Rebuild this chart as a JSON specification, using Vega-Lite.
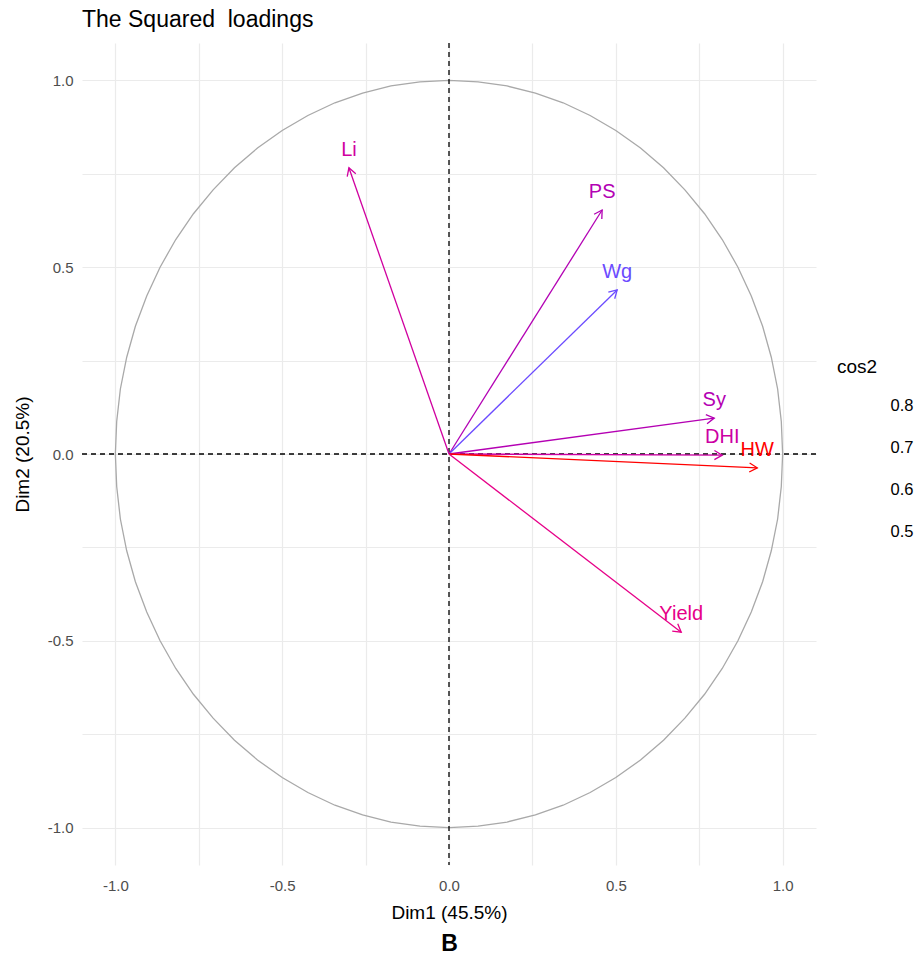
{
  "$schema": "https://vega.github.io/schema/vega-lite/v6.json",
  "background": "white",
  "padding": {"left": 13, "top": 9, "right": 0, "bottom": 0},
  "config": {
    "font": "Liberation Sans",
    "view": {"stroke": null},
    "axis": {
      "grid": true, "gridColor": "#EBEBEB", "gridWidth": 1.2,
      "domain": false, "ticks": false,
      "labelColor": "#4D4D4D", "labelFontSize": 15, "labelFont": "Liberation Sans",
      "titleFontSize": 19, "titleFontWeight": "normal", "titleColor": "#000000", "titleFont": "Liberation Sans"
    }
  },
  "datasets": {
    "circle": [
      {"o": 0, "cx": 1.0, "cy": 0.0}, {"o": 1, "cx": 0.996, "cy": 0.087}, {"o": 2, "cx": 0.985, "cy": 0.174}, {"o": 3, "cx": 0.966, "cy": 0.259},
      {"o": 4, "cx": 0.94, "cy": 0.342}, {"o": 5, "cx": 0.906, "cy": 0.423}, {"o": 6, "cx": 0.866, "cy": 0.5}, {"o": 7, "cx": 0.819, "cy": 0.574},
      {"o": 8, "cx": 0.766, "cy": 0.643}, {"o": 9, "cx": 0.707, "cy": 0.707}, {"o": 10, "cx": 0.643, "cy": 0.766}, {"o": 11, "cx": 0.574, "cy": 0.819},
      {"o": 12, "cx": 0.5, "cy": 0.866}, {"o": 13, "cx": 0.423, "cy": 0.906}, {"o": 14, "cx": 0.342, "cy": 0.94}, {"o": 15, "cx": 0.259, "cy": 0.966},
      {"o": 16, "cx": 0.174, "cy": 0.985}, {"o": 17, "cx": 0.087, "cy": 0.996}, {"o": 18, "cx": 0.0, "cy": 1.0}, {"o": 19, "cx": -0.087, "cy": 0.996},
      {"o": 20, "cx": -0.174, "cy": 0.985}, {"o": 21, "cx": -0.259, "cy": 0.966}, {"o": 22, "cx": -0.342, "cy": 0.94}, {"o": 23, "cx": -0.423, "cy": 0.906},
      {"o": 24, "cx": -0.5, "cy": 0.866}, {"o": 25, "cx": -0.574, "cy": 0.819}, {"o": 26, "cx": -0.643, "cy": 0.766}, {"o": 27, "cx": -0.707, "cy": 0.707},
      {"o": 28, "cx": -0.766, "cy": 0.643}, {"o": 29, "cx": -0.819, "cy": 0.574}, {"o": 30, "cx": -0.866, "cy": 0.5}, {"o": 31, "cx": -0.906, "cy": 0.423},
      {"o": 32, "cx": -0.94, "cy": 0.342}, {"o": 33, "cx": -0.966, "cy": 0.259}, {"o": 34, "cx": -0.985, "cy": 0.174}, {"o": 35, "cx": -0.996, "cy": 0.087},
      {"o": 36, "cx": -1.0, "cy": 0.0}, {"o": 37, "cx": -0.996, "cy": -0.087}, {"o": 38, "cx": -0.985, "cy": -0.174}, {"o": 39, "cx": -0.966, "cy": -0.259},
      {"o": 40, "cx": -0.94, "cy": -0.342}, {"o": 41, "cx": -0.906, "cy": -0.423}, {"o": 42, "cx": -0.866, "cy": -0.5}, {"o": 43, "cx": -0.819, "cy": -0.574},
      {"o": 44, "cx": -0.766, "cy": -0.643}, {"o": 45, "cx": -0.707, "cy": -0.707}, {"o": 46, "cx": -0.643, "cy": -0.766}, {"o": 47, "cx": -0.574, "cy": -0.819},
      {"o": 48, "cx": -0.5, "cy": -0.866}, {"o": 49, "cx": -0.423, "cy": -0.906}, {"o": 50, "cx": -0.342, "cy": -0.94}, {"o": 51, "cx": -0.259, "cy": -0.966},
      {"o": 52, "cx": -0.174, "cy": -0.985}, {"o": 53, "cx": -0.087, "cy": -0.996}, {"o": 54, "cx": 0.0, "cy": -1.0}, {"o": 55, "cx": 0.087, "cy": -0.996},
      {"o": 56, "cx": 0.174, "cy": -0.985}, {"o": 57, "cx": 0.259, "cy": -0.966}, {"o": 58, "cx": 0.342, "cy": -0.94}, {"o": 59, "cx": 0.423, "cy": -0.906},
      {"o": 60, "cx": 0.5, "cy": -0.866}, {"o": 61, "cx": 0.574, "cy": -0.819}, {"o": 62, "cx": 0.643, "cy": -0.766}, {"o": 63, "cx": 0.707, "cy": -0.707},
      {"o": 64, "cx": 0.766, "cy": -0.643}, {"o": 65, "cx": 0.819, "cy": -0.574}, {"o": 66, "cx": 0.866, "cy": -0.5}, {"o": 67, "cx": 0.906, "cy": -0.423},
      {"o": 68, "cx": 0.94, "cy": -0.342}, {"o": 69, "cx": 0.966, "cy": -0.259}, {"o": 70, "cx": 0.985, "cy": -0.174}, {"o": 71, "cx": 0.996, "cy": -0.087},
      {"o": 72, "cx": 1.0, "cy": 0.0}
    ],
    "vars": [
      {"name": "Li", "x": -0.3, "y": 0.766, "cos2": 0.677},
      {"name": "PS", "x": 0.459, "y": 0.653, "cos2": 0.637},
      {"name": "Wg", "x": 0.504, "y": 0.439, "cos2": 0.447},
      {"name": "Sy", "x": 0.795, "y": 0.096, "cos2": 0.641},
      {"name": "DHI", "x": 0.819, "y": -0.003, "cos2": 0.671},
      {"name": "HW", "x": 0.924, "y": -0.037, "cos2": 0.855},
      {"name": "Yield", "x": 0.696, "y": -0.477, "cos2": 0.712}
    ]
  },
  "title": {"text": "B", "orient": "bottom", "anchor": "middle", "dx": -14, "fontSize": 23, "fontWeight": "bold", "color": "#000000", "offset": 11, "font": "Liberation Sans"},
  "vconcat": [
    {
      "width": 734,
      "height": 822,
      "title": {"text": "The Squared\u00a0 loadings", "anchor": "start", "frame": "group", "fontSize": 23, "fontWeight": "normal", "color": "#000000", "offset": 10, "font": "Liberation Sans"},
      "layer": [
        {
          "data": {"name": "circle"},
          "mark": {"type": "line", "color": "#A9A9A9", "strokeWidth": 1.3},
          "encoding": {
            "x": {"field": "cx", "type": "quantitative", "scale": {"domain": [-1.1, 1.1], "nice": false, "zero": false},
              "axis": {"values": [-1, -0.75, -0.5, -0.25, 0, 0.25, 0.5, 0.75, 1], "labelExpr": "abs(datum.value*2 - round(datum.value*2)) < 0.01 ? replace(format(datum.value, '.1f'), '\u2212', '-') : ''", "title": "Dim1 (45.5%)", "labelPadding": 13, "titlePadding": 10}},
            "y": {"field": "cy", "type": "quantitative", "scale": {"domain": [-1.1, 1.1], "nice": false, "zero": false},
              "axis": {"values": [-1, -0.75, -0.5, -0.25, 0, 0.25, 0.5, 0.75, 1], "labelExpr": "abs(datum.value*2 - round(datum.value*2)) < 0.01 ? replace(format(datum.value, '.1f'), '\u2212', '-') : ''", "title": "Dim2 (20.5%)", "labelPadding": 9, "titlePadding": 15}},
            "order": {"field": "o", "type": "quantitative"}
          }
        },
        {
          "data": {"values": [{"v": 0}]},
          "mark": {"type": "rule", "color": "#000000", "strokeWidth": 1.3, "strokeDash": [5, 4]},
          "encoding": {"x": {"field": "v", "type": "quantitative"}}
        },
        {
          "data": {"values": [{"v": 0}]},
          "mark": {"type": "rule", "color": "#000000", "strokeWidth": 1.3, "strokeDash": [5, 4]},
          "encoding": {"y": {"field": "v", "type": "quantitative"}}
        },
        {
          "data": {"name": "vars"},
          "mark": {"type": "rule", "strokeWidth": 1.3},
          "encoding": {
            "x": {"field": "x", "type": "quantitative"},
            "y": {"field": "y", "type": "quantitative"},
            "x2": {"datum": 0},
            "y2": {"datum": 0},
            "color": {"field": "cos2", "type": "quantitative",
              "scale": {"domain": [0.447, 0.64, 0.855], "range": ["#6B4BFF", "#B300B3", "#FF0000"], "interpolate": "hcl"},
              "legend": {"type": "symbol", "title": "cos2", "orient": "none", "legendX": 755, "legendY": 315, "values": [0.8, 0.7, 0.6, 0.5],
                "symbolOpacity": 0, "symbolStrokeWidth": 0, "symbolSize": 100, "rowPadding": 25,
                "labelFontSize": 16.5, "labelColor": "#000000", "labelOffset": 37, "labelFont": "Liberation Sans",
                "titleFontSize": 19, "titleFontWeight": "normal", "titleColor": "#000000", "titlePadding": 21, "titleFont": "Liberation Sans", "format": ".1f"}}
          }
        },
        {
          "data": {"name": "vars"},
          "transform": [{"calculate": "atan2(datum.x * 333.5, datum.y * 373.5) * 180 / PI", "as": "ang"}],
          "mark": {"type": "point", "shape": "M -0.5 0.866 L 0 0 L 0.5 0.866", "filled": false, "size": 330, "strokeWidth": 1.3, "opacity": 1},
          "encoding": {
            "x": {"field": "x", "type": "quantitative"},
            "y": {"field": "y", "type": "quantitative"},
            "angle": {"field": "ang", "type": "quantitative", "scale": null},
            "color": {"field": "cos2", "type": "quantitative", "legend": null}
          }
        },
        {
          "data": {"name": "vars"},
          "mark": {"type": "text", "fontSize": 20, "dy": -18, "baseline": "middle", "align": "center", "font": "Liberation Sans"},
          "encoding": {
            "x": {"field": "x", "type": "quantitative"},
            "y": {"field": "y", "type": "quantitative"},
            "text": {"field": "name"},
            "color": {"field": "cos2", "type": "quantitative", "legend": null}
          }
        }
      ]
    }
  ]
}
